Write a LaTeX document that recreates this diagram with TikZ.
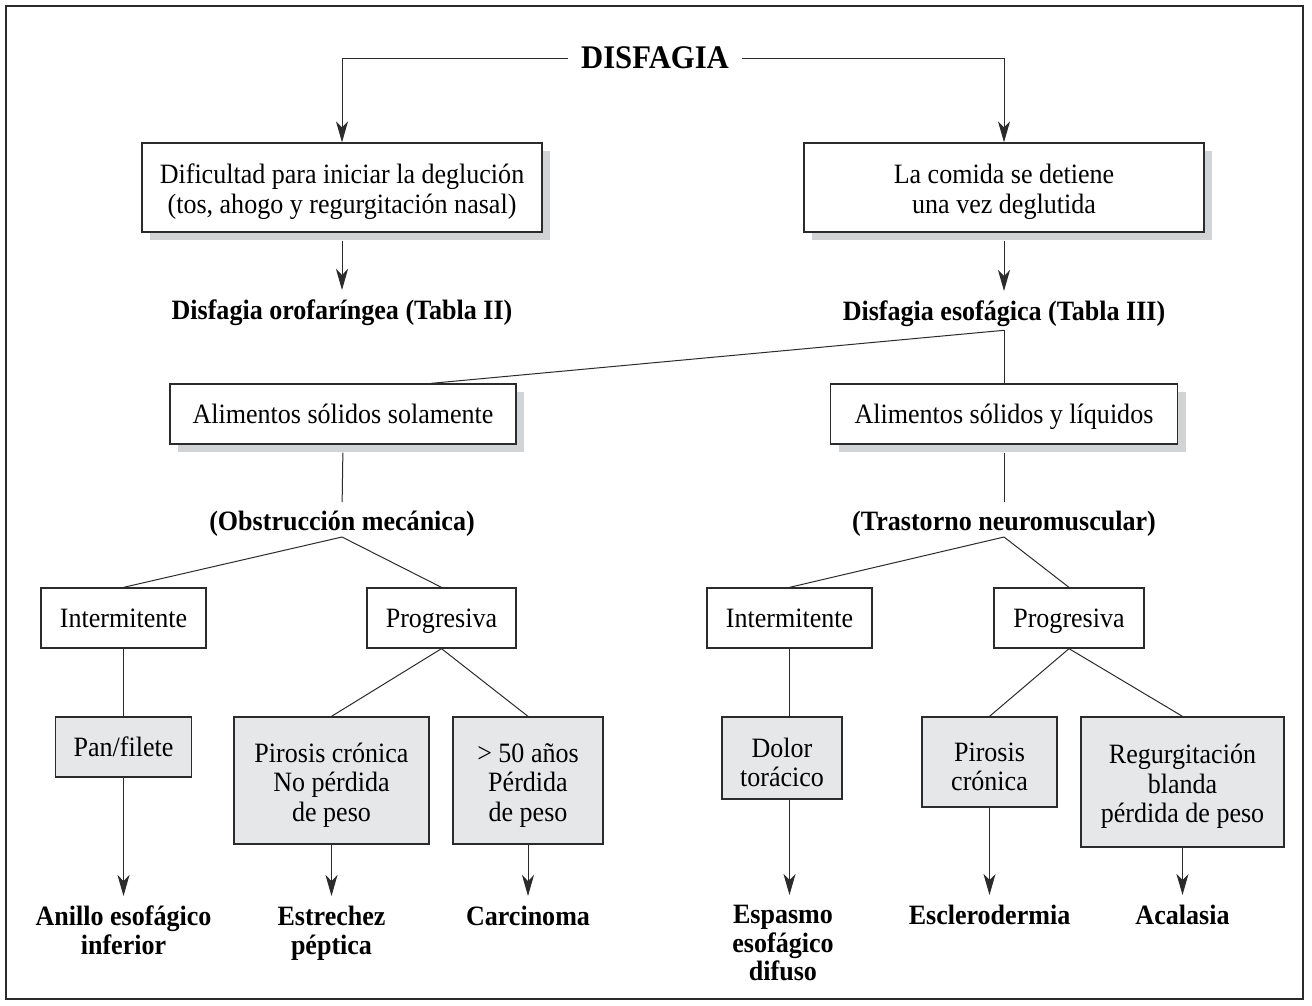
\documentclass[tikz,border=0pt]{standalone}
\usepackage{fontspec}
\setmainfont{Liberation Serif}[FakeStretch=0.93]
\usetikzlibrary{arrows.meta,shadows,positioning}
\definecolor{linea}{HTML}{2B2B2B}
\definecolor{sombra}{HTML}{D2D3D5}
\definecolor{relleno}{HTML}{E6E7E8}
\newcommand{\txt}{\fontsize{28}{29.5}\selectfont}
\newcommand{\txtres}{\fontsize{28}{28.5}\selectfont\bfseries}
\newcommand{\alto}{\rule{0pt}{28pt}}

\begin{document}
\begin{tikzpicture}
        [x=1pt,y=-1pt,
         caja/.style={draw=linea, line width=1.3pt, fill=white, inner sep=0pt, align=center, font=\txt},
         una/.style={text height=21pt, text depth=3pt},
         sombreada/.style={caja, drop shadow={shadow xshift=8pt, shadow yshift=-8pt, fill=sombra, opacity=1}},
         hoja/.style={caja, fill=relleno},
         grupo/.style={font=\txtres, inner sep=0pt, anchor=south},
         res/.style={font=\txtres, align=center, inner xsep=0pt, inner ysep=10pt, anchor=north},
         via/.style={draw=linea, line width=1pt},
         flecha/.style={via, -{Stealth[length=21pt,width=12pt,inset=6pt]}}]
        %\draw[help lines, step=100] (0,0) grid (1312,1005);
        \useasboundingbox (0,0) rectangle (1312,1005);
        \draw[linea, line width=1.5pt] (6,6) rectangle (1303,999);
        \node[font=\fontsize{33}{33}\selectfont\bfseries, inner xsep=13pt] (dis) at (655,58) {DISFAGIA};
        \node[sombreada, minimum width=400pt, minimum height=89pt] (dif) at (342,187.5) {\alto Dificultad para iniciar la deglución\\(tos, ahogo y regurgitación nasal)};
        \node[sombreada, minimum width=400pt, minimum height=89pt] (com) at (1004,187.5) {\alto La comida se detiene\\una vez deglutida};
        \node[res] (oro) at (342,290) {Disfagia orofaríngea (Tabla II)};
        \node[res] (eso) at (1004,291) {Disfagia esofágica (Tabla III)};
        \node[sombreada, una, minimum width=346pt, minimum height=60pt] (sol) at (343,414) {Alimentos sólidos solamente};
        \node[sombreada, una, minimum width=347pt, minimum height=60pt] (liq) at (1004,414) {Alimentos sólidos y líquidos};
        \node[grupo] (obs) at (342,537) {(Obstrucción mecánica)};
        \node[grupo] (tra) at (1004,537) {(Trastorno neuromuscular)};
        \node[caja, una, minimum width=165pt, minimum height=60pt] (int1) at (123.5,618) {Intermitente};
        \node[caja, una, minimum width=149pt, minimum height=60pt] (pro1) at (441.5,618) {Progresiva};
        \node[caja, una, minimum width=165pt, minimum height=60pt] (int2) at (789.5,618) {Intermitente};
        \node[caja, una, minimum width=150pt, minimum height=60pt] (pro2) at (1069,618) {Progresiva};
        \node[hoja, una, minimum width=136pt, minimum height=60pt] (pan) at (123.5,747) {Pan/filete};
        \node[hoja, minimum width=195pt, minimum height=127pt] (pir1) at (331.5,780.5) {\alto Pirosis crónica\\No pérdida\\de peso};
        \node[hoja, minimum width=150pt, minimum height=127pt] (may) at (528,780.5) {\alto > 50 años\\Pérdida\\de peso};
        \node[hoja, minimum width=120pt, minimum height=82pt] (dol) at (782,758) {\alto Dolor\\torácico};
        \node[hoja, minimum width=135pt, minimum height=90pt] (pir2) at (989.5,762) {\alto Pirosis\\crónica};
        \node[hoja, minimum width=203pt, minimum height=130pt] (reg) at (1182.5,782) {\alto Regurgitación\\blanda\\pérdida de peso};
        \node[res] (ani) at (123.5,896) {Anillo esofágico\\inferior};
        \node[res] (est) at (331.5,896) {Estrechez\\péptica};
        \node[res] (car) at (528,896) {Carcinoma};
        \node[res] (esp) at (783,895) {Espasmo\\esofágico\\difuso};
        \node[res] (esc) at (989.5,895) {Esclerodermia};
        \node[res] (aca) at (1182.5,895) {Acalasia};
        \draw[flecha] (dis.west) -| (dif.north);
        \draw[flecha] (dis.east) -| (com.north);
        \draw[flecha, shorten <=8pt] (dif.south) -- (oro.north);
        \draw[flecha, shorten <=8pt] (com.south) -- (eso.north);
        \draw[via] ([yshift=7pt]eso.south) -- ([xshift=88pt]sol.north);
        \draw[via] ([yshift=7pt]eso.south) -- (liq.north);
        \draw[via, shorten <=8pt, shorten >=9pt] (sol.south) -- (obs.north);
        \draw[via, shorten <=8pt, shorten >=9pt] (liq.south) -- (tra.north);
        \draw[via] (obs.south) -- (int1.north);
        \draw[via] (obs.south) -- (pro1.north);
        \draw[via] (tra.south) -- (int2.north);
        \draw[via] (tra.south) -- (pro2.north);
        \draw[via] (int1.south) -- (pan.north);
        \draw[via] (pro1.south) -- (pir1.north);
        \draw[via] (pro1.south) -- (may.north);
        \draw[via] (int2.south) -- (int2.south |- dol.north);
        \draw[via] (pro2.south) -- (pir2.north);
        \draw[via] (pro2.south) -- (reg.north);
        \draw[flecha] (pan.south) -- (ani.north);
        \draw[flecha] (pir1.south) -- (est.north);
        \draw[flecha] (may.south) -- (car.north);
        \draw[flecha] (int2.south |- dol.south) -- (int2.south |- esp.north);
        \draw[flecha] (pir2.south) -- (esc.north);
        \draw[flecha] (reg.south) -- (aca.north);
      \end{tikzpicture}
\end{document}
